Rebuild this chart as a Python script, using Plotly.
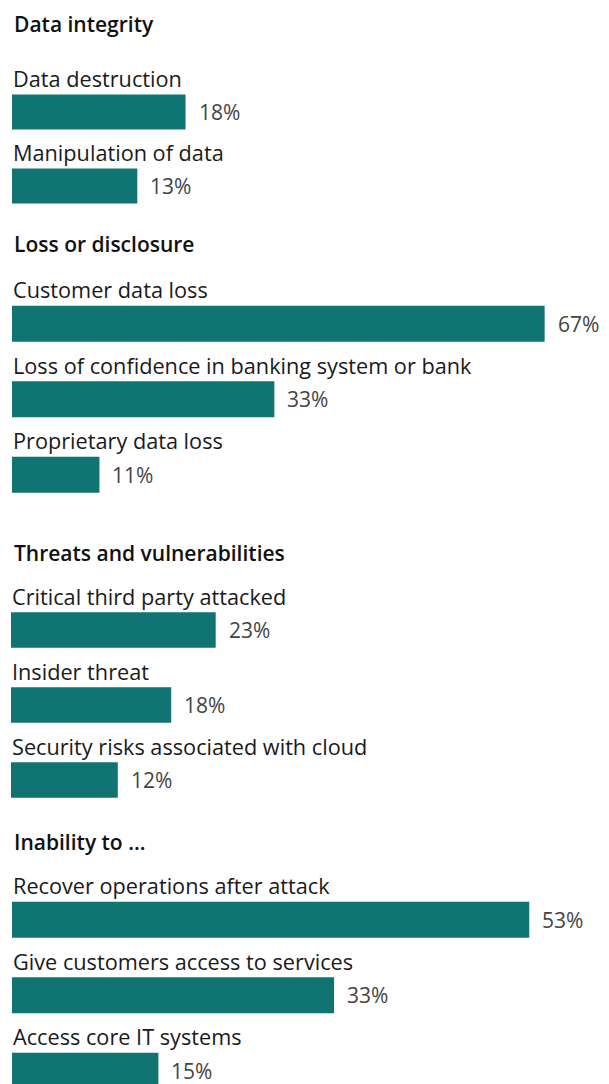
import plotly.graph_objects as go

W, H = 609, 1084
OX, OY = 8, 8  # page offset of the figure (browser body margin)

headings = ["Data integrity", "Loss or disclosure", "Threats and vulnerabilities", "Inability to ..."]
g1_labels = ["Data destruction", "Manipulation of data"]
g1_values = [18, 13]
g2_labels = ["Customer data loss", "Loss of confidence in banking system or bank", "Proprietary data loss"]
g2_values = [67, 33, 11]
g3_labels = ["Critical third party attacked", "Insider threat", "Security risks associated with cloud"]
g3_values = [23, 18, 12]
g4_labels = ["Recover operations after attack", "Give customers access to services", "Access core IT systems"]
g4_values = [53, 33, 15]

groups = [(g1_labels, g1_values), (g2_labels, g2_values), (g3_labels, g3_values), (g4_labels, g4_values)]

# layout (pixel, page coordinates) parameters
heading_y = [24, 244, 553, 842]
y_top = [75, 286, 592.5, 882]          # top of each group's bar region (px)
spacing = [74, 75.5, 75, 75.5]          # px per category row
x_left = [12, 12, 11, 12]
px_per_pct = [9.64, 7.95, 8.9, 9.76]

BAR = "#107572"
FONT = "Open Sans"

fig = go.Figure()
annotations = []
layout_axes = {}
for i, ((labels, values), top, sp, xl, ppp) in enumerate(zip(groups, y_top, spacing, x_left, px_per_pct)):
    n = len(labels)
    sfx = "" if i == 0 else str(i + 1)
    xa, ya = "x" + sfx, "y" + sfx
    top_f = top - OY
    xl_f = xl - OX
    bottom_f = min(top_f + n * sp, H)
    rng_bottom = (bottom_f - top_f) / sp - 0.5
    fig.add_trace(go.Bar(
        x=values, y=labels, orientation="h", xaxis=xa, yaxis=ya,
        marker=dict(color=BAR, line=dict(width=0)), width=0.475,
        hoverinfo="skip", showlegend=False, cliponaxis=False,
    ))
    width_px = W - xl_f
    layout_axes["xaxis" + sfx] = dict(
        domain=[xl_f / W, 1], range=[0, width_px / ppp], visible=False,
        anchor=ya, fixedrange=True,
    )
    layout_axes["yaxis" + sfx] = dict(
        domain=[1 - bottom_f / H, 1 - top_f / H], range=[rng_bottom, -0.5],
        type="category", categoryorder="array", categoryarray=labels,
        visible=False, anchor=xa, fixedrange=True,
    )
    for lab, v in zip(labels, values):
        annotations.append(dict(
            x=0, y=lab, xref=xa, yref=ya, text=lab, showarrow=False,
            xanchor="left", yanchor="middle", yshift=34, xshift=-1,
            font=dict(family=FONT, size=21.7, color="#1a1a1a"),
        ))
        annotations.append(dict(
            x=v, y=lab, xref=xa, yref=ya, text=f"{v}%", showarrow=False,
            xanchor="left", yanchor="middle", xshift=11,
            font=dict(family=FONT, size=21, color="#444444"),
        ))

for h, hy in zip(headings, heading_y):
    annotations.append(dict(
        x=(12 - OX) / W, y=1 - (hy - OY) / H, xref="paper", yref="paper", text=h,
        showarrow=False, xanchor="left", yanchor="middle",
        font=dict(family=FONT, size=21, color="#111111", weight=600),
    ))

fig.update_layout(
    width=W, height=H, margin=dict(l=0, r=0, t=0, b=0),
    paper_bgcolor="white", plot_bgcolor="white",
    annotations=annotations, **layout_axes,
)
fig.write_html("out.html")
